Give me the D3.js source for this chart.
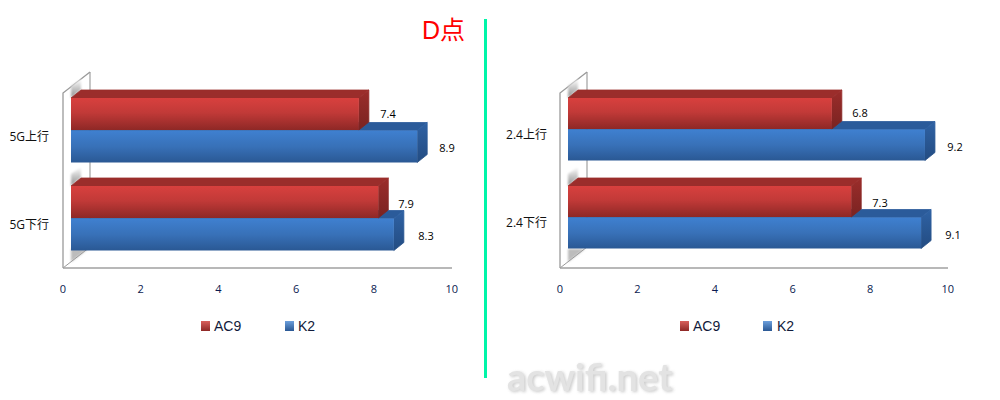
<!DOCTYPE html>
<html><head><meta charset="utf-8">
<script src="https://cdn.jsdelivr.net/npm/d3@7"></script>
<style>html,body{margin:0;padding:0;background:#fff;overflow:hidden}svg{display:block}</style>
</head><body><svg id="c" width="1000" height="400"></svg>
<script>
const seriesNames = ["AC9", "K2"];
const categoriesA = ["5G上行", "5G下行"];
const ac9A = [7.4, 7.9];
const k2A = [8.9, 8.3];
const categoriesB = ["2.4上行", "2.4下行"];
const ac9B = [6.8, 7.3];
const k2B = [9.2, 9.1];
const ticks = [0, 2, 4, 6, 8, 10];

const svg = d3.select("#c");
const defs = svg.append("defs");
function grad(id, stops){
  const g = defs.append("linearGradient").attr("id", id)
    .attr("x1",0).attr("y1",0).attr("x2",0).attr("y2",1);
  stops.forEach(s => g.append("stop").attr("offset", s[0]).attr("stop-color", s[1]));
}
grad("fr", [[0,"#d8403e"],[0.45,"#c23a38"],[1,"#8e2826"]]);
grad("fb", [[0,"#3f80d0"],[0.5,"#3871b8"],[1,"#2a5894"]]);
grad("sr", [[0,"#9b2d2b"],[1,"#7a2321"]]);
grad("sb", [[0,"#2f62a4"],[1,"#234c82"]]);
grad("shade", [[0,"#ffffff"],[1,"#8c8c8c"]]);
grad("lr", [[0,"#d9605c"],[1,"#8e2826"]]);
grad("lb", [[0,"#6c9fdc"],[1,"#2a5894"]]);
function soft(id,sd){
  defs.append("filter").attr("id",id).attr("x","-20%").attr("y","-30%").attr("width","140%").attr("height","160%")
    .append("feGaussianBlur").attr("stdDeviation",sd);
}
soft("soft",1.6); soft("softer",0.7); soft("wedge",0.8);

const colors = {
  AC9:{front:"url(#fr)",top:"#9b2d2b",side:"url(#sr)"},
  K2:{front:"url(#fb)",top:"#2b5b9a",side:"url(#sb)"}
};
const labelFont = "'Open Sans', 'Noto Sans CJK SC', sans-serif";

function chart(o){
  const g = svg.append("g");
  const axisScale = d3.scaleLinear().domain([0,10]).range([o.axis0-0.7,o.axis1-0.7]);
  const barScale = d3.scaleLinear().domain([0,10]).range([o.bar0,o.bar0+o.barK*10]);
  const x0=o.axis0, dxW=27, dyW=21, top=93, bot=268;
  const line = d3.line();
  const xs = barScale(0);

  // wall frame
  g.append("path").attr("d",line([[x0+dxW,top-dyW],[x0+dxW,bot-dyW]]))
    .attr("stroke","#a0a0a0").attr("stroke-width",1.2).attr("fill","none");
  g.append("path").attr("d",line([[x0,bot],[x0,top],[x0+dxW,top-dyW]]))
    .attr("stroke","#9a9a9a").attr("stroke-width",1.3).attr("fill","none");
  // shading on the wall above each pair of bars and on the floor
  const wedge = y => line([[xs,y],[xs+10,y-8],[xs+10,y-19],[xs,y-12]])+"Z";
  o.rowY.forEach(y=>{
    g.append("path").attr("d",wedge(y)).attr("fill","url(#shade)").attr("filter","url(#wedge)");
  });
  g.append("path").attr("d",line([[xs,bot-19],[xs+17,bot-19],[xs,bot-6]])+"Z")
    .attr("fill","#bcbcbc").attr("filter","url(#wedge)");
  g.append("path").attr("d",line([[x0,bot],[x0+dxW,bot-dyW]]))
    .attr("stroke","#9a9a9a").attr("fill","none");
  g.append("path").attr("d",line([[x0,bot],[o.axis1,bot]]))
    .attr("stroke","#a0a0a0").attr("stroke-width",1.4).attr("fill","none");

  // bars
  const dx=10, dy=8;
  o.cats.forEach((c,i)=>{
    const y0 = o.rowY[i], h = o.barH;
    [["K2",o.k2[i],y0+h+0.5],["AC9",o.ac9[i],y0]].forEach(([name,v,y])=>{
      const x1 = barScale(v), col = colors[name];
      g.append("path").attr("d",line([[xs,y],[xs+dx,y-dy],[x1+dx,y-dy],[x1,y]])+"Z")
        .attr("fill",col.top).attr("stroke",col.top).attr("stroke-linejoin","round").attr("stroke-width",0.8);
      g.append("path").attr("d",line([[x1,y],[x1+dx,y-dy],[x1+dx,y+h-dy],[x1,y+h]])+"Z")
        .attr("fill",col.side).attr("stroke",col.side).attr("stroke-linejoin","round").attr("stroke-width",0.8);
      g.append("rect").attr("x",xs).attr("y",y).attr("width",x1-xs).attr("height",h).attr("fill",col.front);
    });
    g.append("text").attr("x",o.catX).attr("y",o.catY[i]).attr("text-anchor","end")
      .attr("font-family",labelFont).attr("font-size",12).attr("fill","#111").text(c);
    [[o.ac9[i],o.labA[i]],[o.k2[i],o.labK[i]]].forEach(([v,lab])=>{
      g.append("text").attr("x",lab[0]).attr("y",lab[1]).attr("text-anchor","middle")
        .attr("font-family",labelFont).attr("font-size",11).attr("fill","#000").text(v.toFixed(1));
    });
  });

  // axis
  const ax = g.append("g").attr("transform",`translate(0,${bot})`)
    .call(d3.axisBottom(axisScale).tickValues(ticks).tickSize(0).tickPadding(17).tickFormat(d3.format("d")));
  ax.select(".domain").remove();
  ax.selectAll("text").attr("font-family",labelFont).attr("font-size",11).attr("fill","#0a1a50");

  // legend
  seriesNames.forEach((n,i)=>{
    g.append("rect").attr("x",o.legM[i]).attr("y",321).attr("width",9).attr("height",10)
      .attr("fill",n==="AC9"?"url(#lr)":"url(#lb)");
    g.append("text").attr("x",o.legT[i]).attr("y",331)
      .attr("font-family","'Liberation Sans', sans-serif").attr("font-size",14).attr("fill","#111a3a").text(n);
  });
}

chart({cats:categoriesA,ac9:ac9A,k2:k2A,axis0:63,axis1:452,bar0:71,barK:38.9,barH:32,
  rowY:[98,186],catX:49,catY:[141,229],
  labA:[[388,118],[406,208]],labK:[[447,152],[426,240]],
  legM:[201,285],legT:[214,298]});
chart({cats:categoriesB,ac9:ac9B,k2:k2B,axis0:560,axis1:948,bar0:568,barK:38.8,barH:31,
  rowY:[98,186],catX:547,catY:[139,227],
  labA:[[860,117],[880,207]],labK:[[955,151],[953,239]],
  legM:[680,763],legT:[693,777]});

svg.append("rect").attr("x",484).attr("y",19).attr("width",3).attr("height",359).attr("fill","#00f5a8");
svg.append("text").attr("x",422).attr("y",39).attr("font-family","'Liberation Sans', 'Noto Sans CJK SC', sans-serif")
  .attr("font-size",25).attr("fill","#ff0000").text("D点");
svg.append("text").attr("x",508.5).attr("y",391.8).attr("font-family","Lato, sans-serif").attr("font-weight",700)
  .attr("font-size",38).attr("fill","#bdbdbd").attr("opacity",0.8).attr("filter","url(#soft)").text("acwifi.net");
svg.append("text").attr("x",507).attr("y",390.5).attr("font-family","Lato, sans-serif").attr("font-weight",700)
  .attr("font-size",38).attr("fill","#e3e3e3").attr("filter","url(#softer)").text("acwifi.net");
</script></body></html>
